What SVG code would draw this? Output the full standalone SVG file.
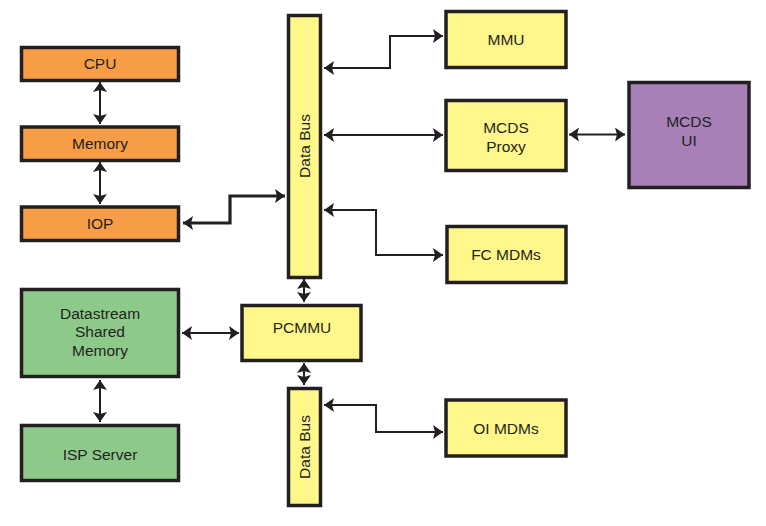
<svg xmlns="http://www.w3.org/2000/svg" width="766" height="526" viewBox="0 0 766 526">
<defs>
<style>
.box{stroke:#231f20;stroke-width:3.5}
.or{fill:#f79d46}
.ye{fill:#fff789}
.gr{fill:#8dca8a}
.pu{fill:#a880b8}
.t{font-family:"Liberation Sans",Arial,sans-serif;font-size:15.5px;fill:#231f20;text-anchor:middle}
.c{fill:none;stroke:#231f20;stroke-width:2}
.thick{stroke-width:3.2}
</style>
<marker id="a" markerUnits="userSpaceOnUse" markerWidth="12" markerHeight="14" refX="10" refY="7" orient="auto-start-reverse" viewBox="0 0 12 14">
<path d="M0,0 L10,7 L0,14 L2,7 Z" fill="#231f20"/>
</marker>
</defs>
<rect width="766" height="526" fill="#fff"/>
<g id="connectors">
<line class="c" x1="100" y1="82" x2="100" y2="124" marker-start="url(#a)" marker-end="url(#a)"/>
<line class="c" x1="100" y1="162" x2="100" y2="204" marker-start="url(#a)" marker-end="url(#a)"/>
<path class="c thick" d="M183,223 H230 V196 H285" marker-start="url(#a)" marker-end="url(#a)"/>
<path class="c" d="M324,68 H390 V36 H443" marker-start="url(#a)" marker-end="url(#a)"/>
<line class="c" x1="324" y1="135" x2="443" y2="135" marker-start="url(#a)" marker-end="url(#a)"/>
<line class="c" x1="569" y1="134.5" x2="625" y2="134.5" marker-start="url(#a)" marker-end="url(#a)"/>
<path class="c" d="M324,210 H376 V255 H443" marker-start="url(#a)" marker-end="url(#a)"/>
<line class="c" x1="304" y1="279" x2="304" y2="302" marker-start="url(#a)" marker-end="url(#a)"/>
<line class="c" x1="304" y1="363" x2="304" y2="385" marker-start="url(#a)" marker-end="url(#a)"/>
<line class="c" x1="182" y1="333" x2="239" y2="333" marker-start="url(#a)" marker-end="url(#a)"/>
<line class="c" x1="100" y1="380" x2="100" y2="422" marker-start="url(#a)" marker-end="url(#a)"/>
<path class="c" d="M324,405 H376 V432 H443" marker-start="url(#a)" marker-end="url(#a)"/>
</g>
<g id="cpu"><rect class="box or" x="21.5" y="47.5" width="157" height="33"/><text class="t" x="100" y="69">CPU</text></g>
<g id="memory"><rect class="box or" x="21.5" y="127" width="157" height="33.5"/><text class="t" x="100" y="149">Memory</text></g>
<g id="iop"><rect class="box or" x="21.5" y="207" width="157" height="33.5"/><text class="t" x="100" y="229">IOP</text></g>
<g id="databus1"><rect class="box ye" x="288.5" y="15.5" width="32" height="262"/><text class="t" transform="translate(309.5,146) rotate(-90)">Data Bus</text></g>
<g id="mmu"><rect class="box ye" x="446" y="11.5" width="120" height="56"/><text class="t" x="506" y="44.5">MMU</text></g>
<g id="mcdsproxy"><rect class="box ye" x="446" y="100.5" width="120" height="70"/><text class="t" x="506" y="133">MCDS</text><text class="t" x="506" y="151.5">Proxy</text></g>
<g id="mcdsui"><rect class="box pu" x="629" y="82.5" width="120" height="105"/><text class="t" x="689" y="127">MCDS</text><text class="t" x="689" y="145.8">UI</text></g>
<g id="fcmdms"><rect class="box ye" x="447" y="226.5" width="119" height="56"/><text class="t" x="506" y="259.5">FC MDMs</text></g>
<g id="datastream"><rect class="box gr" x="21.5" y="289.5" width="157" height="87"/><text class="t" x="100" y="318.5">Datastream</text><text class="t" x="100" y="337">Shared</text><text class="t" x="100" y="355.5">Memory</text></g>
<g id="pcmmu"><rect class="box ye" x="242" y="305.5" width="119" height="55"/><text class="t" x="302" y="333">PCMMU</text></g>
<g id="ispserver"><rect class="box gr" x="21.5" y="425.5" width="157" height="55"/><text class="t" x="100" y="460">ISP Server</text></g>
<g id="databus2"><rect class="box ye" x="288.5" y="388.5" width="32" height="117"/><text class="t" transform="translate(309.5,447) rotate(-90)">Data Bus</text></g>
<g id="oimdms"><rect class="box ye" x="446" y="400" width="120" height="56"/><text class="t" x="506" y="434">OI MDMs</text></g>
</svg>
